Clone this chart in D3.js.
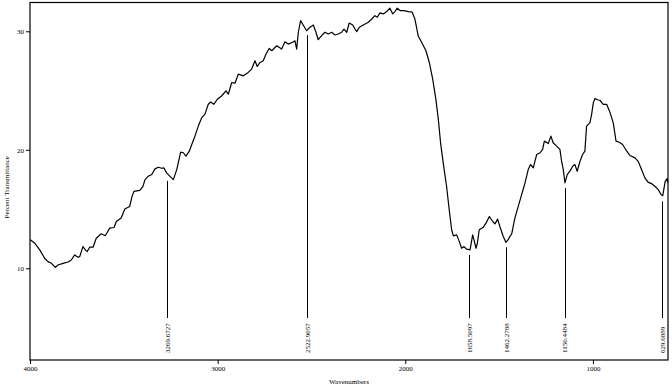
<!DOCTYPE html>
<html>
<head>
<meta charset="utf-8">
<script src="https://cdn.jsdelivr.net/npm/d3@7"></script>
<style>
  body { margin: 0; background: #fff; }
  svg { display: block; font-family: "Liberation Serif", "DejaVu Serif", serif; }
</style>
</head>
<body>
<svg class="spectrum"></svg>
<script>
// Spectrum: wavenumber (cm-1) and percent transmittance
var wavenumbers = [3998, 3975, 3948, 3922, 3904, 3886, 3865, 3851, 3824, 3797, 3780, 3762, 3744, 3735, 3718, 3705, 3695, 3682, 3664, 3647,
    3620, 3599, 3575, 3552, 3540, 3514, 3495, 3469, 3456, 3446, 3415, 3398, 3387, 3370, 3351, 3334, 3316, 3298, 3286, 3272,
    3254, 3236, 3218, 3204, 3197, 3183, 3169, 3151, 3138, 3121, 3103, 3085, 3068, 3050, 3037, 3020, 3002, 2979, 2956, 2943,
    2925, 2908, 2890, 2863, 2837, 2819, 2801, 2789, 2774, 2757, 2742, 2725, 2712, 2685, 2659, 2641, 2624, 2600, 2588, 2579,
    2570, 2558, 2544, 2526, 2508, 2490, 2476, 2464, 2446, 2428, 2410, 2392, 2375, 2357, 2339, 2327, 2312, 2299, 2280, 2268,
    2259, 2245, 2224, 2197, 2179, 2162, 2149, 2135, 2117, 2099, 2082, 2067, 2055, 2043, 2028, 2007, 1984, 1963, 1949, 1931,
    1913, 1890, 1872, 1854, 1837, 1824, 1812, 1798, 1780, 1766, 1753, 1744, 1726, 1712, 1700, 1687, 1673, 1655, 1641, 1634,
    1623, 1616, 1606, 1584, 1570, 1552, 1534, 1522, 1508, 1496, 1478, 1464, 1453, 1433, 1416, 1398, 1380, 1362, 1345, 1332,
    1318, 1300, 1282, 1268, 1259, 1238, 1224, 1212, 1193, 1176, 1167, 1158, 1149, 1137, 1123, 1108, 1096, 1084, 1069, 1055,
    1043, 1034, 1016, 1007, 998, 989, 972, 963, 945, 927, 909, 892, 877, 860, 842, 820, 803, 776, 759, 741,
    723, 705, 687, 670, 652, 636, 628, 615, 605, 601];
var transmittance = [12.40, 12.12, 11.55, 10.85, 10.56, 10.42, 10.08, 10.28, 10.42, 10.53, 10.70, 11.13, 10.93, 10.98, 11.83, 11.55, 11.41, 11.78, 11.78, 12.54,
    12.91, 12.74, 13.39, 13.44, 13.95, 14.24, 15.00, 15.22, 16.07, 16.49, 16.58, 16.92, 17.48, 17.76, 17.91, 18.39, 18.53, 18.44, 18.47, 18.05,
    17.76, 17.48, 18.33, 19.32, 19.80, 19.75, 19.46, 19.88, 20.45, 21.15, 22.00, 22.71, 22.99, 23.84, 24.03, 23.84, 24.26, 24.54, 24.97, 24.69,
    25.68, 25.62, 26.38, 26.24, 26.53, 26.81, 27.51, 27.03, 27.37, 27.51, 28.08, 28.56, 28.36, 28.78, 28.50, 29.12, 28.92, 29.07, 29.20, 28.50,
    29.92, 30.90, 30.53, 30.05, 30.34, 30.53, 29.92, 29.29, 29.63, 29.92, 29.77, 29.92, 29.69, 29.77, 29.92, 30.19, 29.92, 30.70, 30.53, 30.19,
    29.97, 30.34, 30.53, 30.76, 31.04, 31.32, 31.19, 31.55, 31.47, 31.66, 31.95, 31.47, 31.66, 31.95, 31.75, 31.75, 31.66, 31.61, 31.04, 29.60,
    29.07, 28.36, 27.37, 25.96, 24.26, 22.57, 20.59, 18.90, 16.92, 14.94, 13.25, 12.74, 12.82, 12.25, 11.69, 11.83, 11.61, 11.55, 12.82, 12.40,
    11.69, 12.12, 13.25, 13.47, 13.81, 14.37, 13.95, 13.75, 14.15, 13.53, 12.68, 12.19, 12.40, 12.91, 14.24, 15.22, 16.21, 17.20, 18.33, 18.75,
    18.47, 19.60, 19.75, 20.03, 20.73, 20.53, 21.15, 20.59, 20.31, 20.03, 19.03, 18.33, 17.20, 17.91, 18.19, 18.61, 18.75, 18.19, 19.03, 19.60,
    19.88, 22.00, 22.29, 22.99, 23.98, 24.32, 24.20, 24.18, 23.84, 23.84, 23.14, 22.29, 20.73, 20.64, 20.45, 19.88, 19.52, 19.32, 19.03, 18.33,
    17.63, 17.25, 17.14, 16.92, 16.64, 16.21, 16.13, 17.34, 17.57, 17.23];

// Picked peaks
var peakPositions = [3269.6727, 2522.9057, 1658.5097, 1462.2788, 1150.4484, 629.6889];
var peakValues = [17.8, 30.1, 11.55, 12.2, 17.2, 16.07];
var peakLabels = ["3269.6727", "2522.9057", "1658.5097", "1462.2788", "1150.4484", "629.6889"];

// Axis ticks
var xTicks = [4000, 3000, 2000, 1000];
var yTicks = [10, 20, 30];

var width = 672, height = 386;
// plot box (note: "top" is taken by window.top, so use plot* names)
var plotLeft = 30, plotRight = 668, plotTop = 2.5, plotBottom = 360;

var svg = d3.select(".spectrum")
    .attr("width", width)
    .attr("height", height);

var spectrum = wavenumbers.map(function(w, i) { return { wn: w, t: transmittance[i] }; });

// Wavenumbers run from high to low, left to right
var xScale = d3.scaleLinear()
    .domain([4000, 600])
    .range([plotLeft, plotRight]);

var yScale = d3.scaleLinear()
    .domain([2.26, 32.43])
    .range([plotBottom, plotTop]);

// Plot frame
svg.append("rect")
    .attr("x", plotLeft)
    .attr("y", plotTop)
    .attr("width", plotRight - plotLeft)
    .attr("height", plotBottom - plotTop)
    .style("fill", "none")
    .style("stroke", "#000")
    .style("stroke-width", 1.2);

// Axes
var xAxis = svg.append("g")
    .attr("transform", "translate(0," + plotBottom + ")")
    .call(d3.axisBottom(xScale).tickValues(xTicks).tickSize(4).tickPadding(2).tickFormat(d3.format("d")));

var yAxis = svg.append("g")
    .attr("transform", "translate(" + plotLeft + ",0)")
    .call(d3.axisLeft(yScale).tickValues(yTicks).tickSize(4).tickPadding(2).tickFormat(d3.format("d")));

[xAxis, yAxis].forEach(function(g) {
    g.select(".domain").remove();
    g.selectAll(".tick line").style("stroke", "#000");
    g.selectAll(".tick text")
        .style("font-family", "Liberation Serif, serif")
        .style("font-size", "7px")
        .style("fill", "#000");
});

// Spectrum line
var line = d3.line()
    .x(function(d) { return xScale(d.wn); })
    .y(function(d) { return yScale(d.t); });

svg.append("path")
    .datum(spectrum)
    .attr("d", line)
    .style("fill", "none")
    .style("stroke", "#000")
    .style("stroke-width", 1.2)
    .style("stroke-linejoin", "round");

// Peak marker lines and labels
var labelBase = 353;
svg.selectAll(".peak-line")
    .data(peakPositions)
    .enter().append("line")
    .attr("class", "peak-line")
    .attr("x1", function(d) { return Math.round(xScale(d)) + 0.5; })
    .attr("x2", function(d) { return Math.round(xScale(d)) + 0.5; })
    .attr("y1", function(d, i) { return yScale(peakValues[i]) + 5; })
    .attr("y2", 318)
    .style("stroke", "#000")
    .style("stroke-width", 1);

svg.selectAll(".peak-label")
    .data(peakPositions)
    .enter().append("text")
    .attr("class", "peak-label")
    .attr("transform", function(d) {
        return "translate(" + (xScale(d) + 2.5) + "," + labelBase + ") rotate(-90)";
    })
    .attr("text-anchor", "start")
    .style("font-size", "7px")
    .style("fill", "#000")
    .text(function(d, i) { return peakLabels[i]; });

// Axis titles
svg.append("text")
    .attr("x", (plotLeft + plotRight) / 2)
    .attr("y", 384)
    .attr("text-anchor", "middle")
    .style("font-size", "7px")
    .text("Wavenumbers");

svg.append("text")
    .attr("transform", "translate(9," + ((plotTop + plotBottom) / 2 + 6) + ") rotate(-90)")
    .attr("text-anchor", "middle")
    .style("font-size", "7px")
    .text("Percent Transmittance");
</script>
</body>
</html>
